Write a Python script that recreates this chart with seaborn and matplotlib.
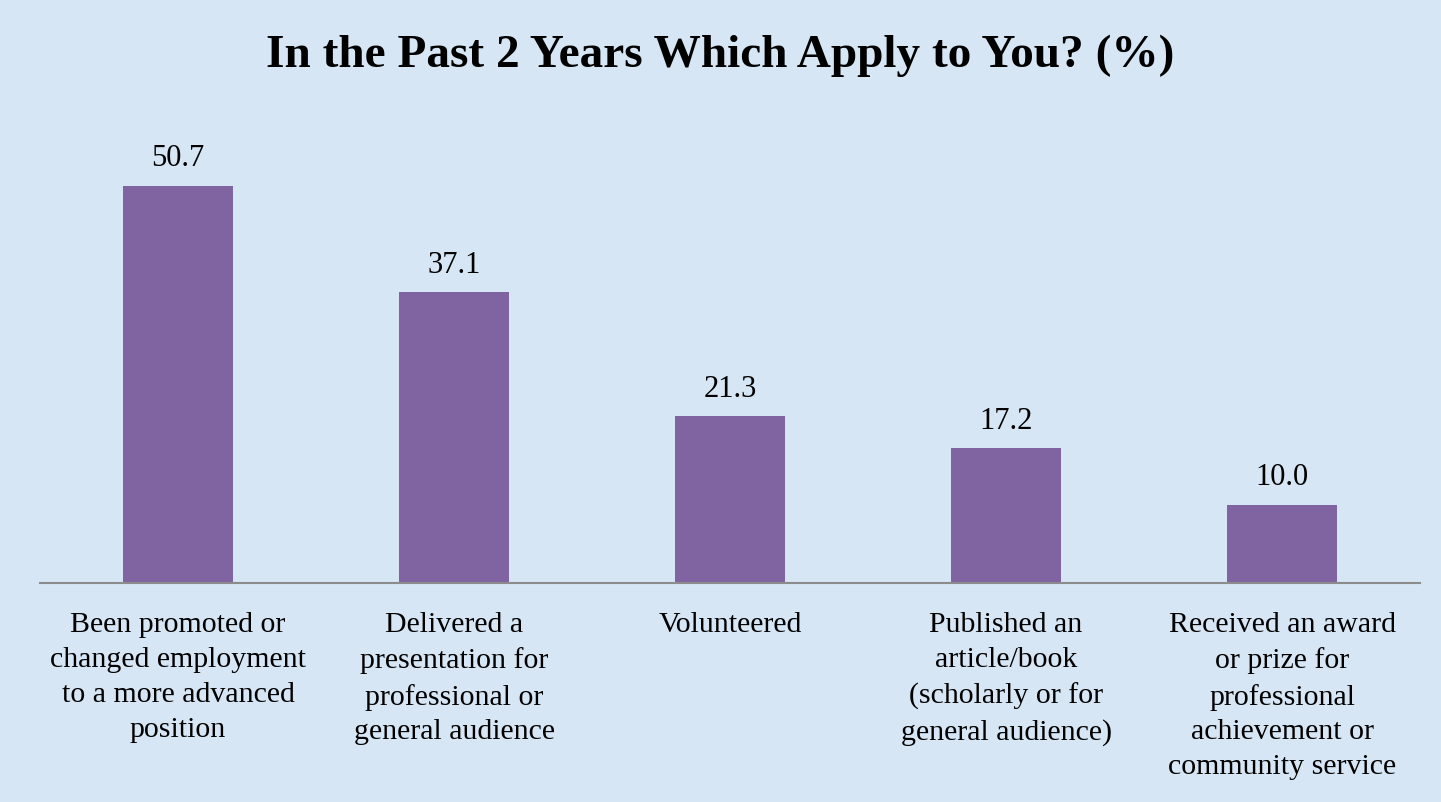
import matplotlib.pyplot as plt
import pandas as pd
import seaborn as sns

# Data
categories = [
    "Been promoted or\nchanged employment\nto a more advanced\nposition",
    "Delivered a\npresentation for\nprofessional or\ngeneral audience",
    "Volunteered",
    "Published an\narticle/book\n(scholarly or for\ngeneral audience)",
    "Received an award\nor prize for\nprofessional\nachievement or\ncommunity service",
]
values = [50.7, 37.1, 21.3, 17.2, 10.0]

df = pd.DataFrame({"category": categories, "value": values})

sns.set_theme(style="white")
plt.rcParams["font.family"] = ["Liberation Serif", "DejaVu Serif"]

bg = "#d7e6f5"
fig = plt.figure(figsize=(14.41, 8.02), dpi=100, facecolor=bg)
ax = fig.add_axes([0.0278, 0.273, 0.9577, 0.586])
ax.set_facecolor(bg)

sns.barplot(data=df, x="category", y="value", color="#8064A2", width=0.4,
            saturation=1, linewidth=0, ax=ax)

for i, v in enumerate(values):
    ax.text(i, v + 1.6, f"{v:.1f}", ha="center", va="bottom", fontsize=22, color="black")

ax.set_ylim(0, 60)
ax.set_xlim(-0.5, len(values) - 0.5)
ax.set_yticks([])
ax.set_xlabel("")
ax.set_ylabel("")
for s in ["top", "right", "left"]:
    ax.spines[s].set_visible(False)
ax.spines["bottom"].set_color("#8c8c8c")
ax.spines["bottom"].set_linewidth(1.5)
ax.tick_params(axis="x", length=0, pad=21)
ax.set_xticks(range(len(categories)))
ax.set_xticklabels(categories, fontsize=21.5, linespacing=1.44, color="black", va="top")

fig.text(0.5, 0.93, "In the Past 2 Years Which Apply to You? (%)", ha="center",
         va="center", fontsize=34, fontweight="bold", color="black")

fig.savefig("out.png", dpi=100, facecolor=bg)
